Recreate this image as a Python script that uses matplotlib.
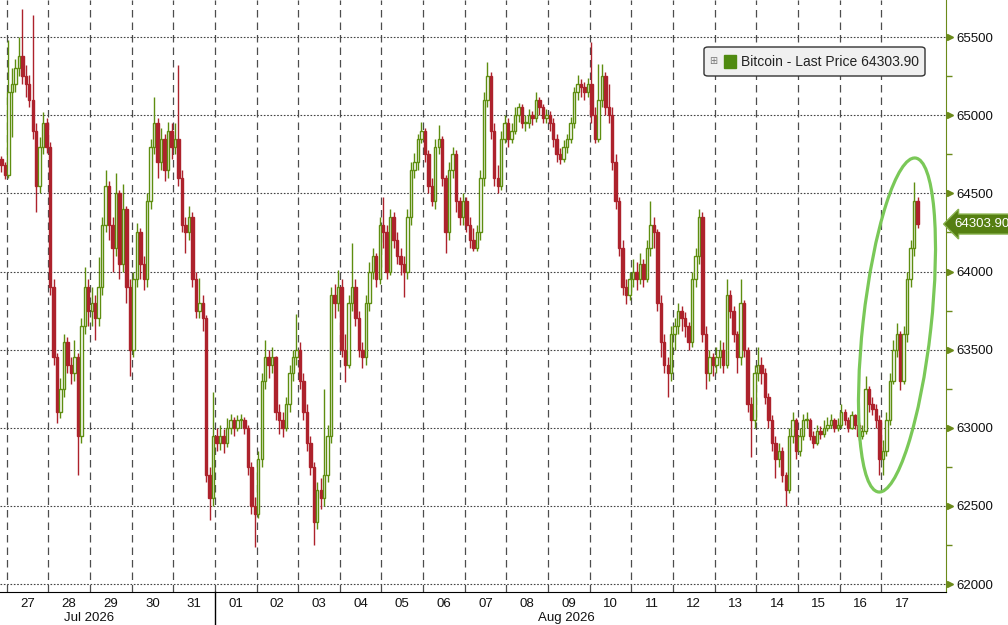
import numpy as np
import matplotlib.pyplot as plt
from matplotlib.patches import Ellipse, Rectangle, FancyBboxPatch
from matplotlib.transforms import IdentityTransform, ScaledTranslation, blended_transform_factory

# 2-hour candles, 12 per day; the first two bars are the tail of Jul 26
BARS_PER_DAY = 12
first_open = 64720

closes = [
    64680, 64620,  # Jul 26
    65150, 65200, 65300, 65380, 65250, 65200, 65100, 64900, 64550, 64800, 64950, 64800,  # 27
    63900, 63450, 63100, 63250, 63550, 63400, 63350, 63450, 62950, 63650, 63900, 63750,  # 28
    63800, 63700, 63900, 64300, 64550, 64300, 64150, 64500, 64050, 64400, 63900, 63500,  # 29
    63950, 64250, 64050, 63950, 64450, 64800, 64950, 64700, 64850, 64650, 64900, 64800,  # 30
    64850, 64600, 64300, 64250, 64350, 63950, 63750, 63800, 63700, 62700, 62550, 62950,  # 31
    62900, 62950, 62900, 63000, 63050, 63000, 63050, 63050, 63000, 62750, 62500, 62450,  # Aug 01
    62800, 63300, 63450, 63400, 63450, 63100, 63050, 63000, 63150, 63350, 63450, 63500,  # 02
    63300, 63100, 62900, 62750, 62400, 62600, 62550, 62700, 62950, 63850, 63800, 63900,  # 03
    63500, 63400, 63800, 63900, 63700, 63500, 63450, 63800, 64000, 64100, 63950, 64300,  # 04
    64250, 64000, 64350, 64200, 64100, 64050, 64000, 64350, 64650, 64700, 64850, 64900,  # 05
    64750, 64550, 64450, 64800, 64850, 64600, 64250, 64650, 64750, 64450, 64350, 64450,  # 06
    64300, 64200, 64150, 64250, 64600, 65100, 65250, 64900, 64600, 64550, 64850, 64950,  # 07
    64850, 64900, 65000, 65050, 64950, 64950, 65000, 64980, 65100, 65050, 64980, 65000,  # 08
    64950, 64850, 64750, 64720, 64800, 64850, 64950, 65150, 65200, 65180, 65150, 65200,  # 09
    65000, 64850, 65100, 65250, 65050, 65000, 64700, 64450, 64150, 63900, 63850, 63950,  # 10
    64000, 63950, 64050, 63950, 64150, 64300, 64250, 63800, 63550, 63400, 63350, 63600,  # 11
    63650, 63750, 63700, 63650, 63550, 63950, 64100, 64350, 63600, 63350, 63450, 63400,  # 12
    63450, 63500, 63400, 63850, 63750, 63600, 63450, 63800, 63500, 63150, 63050, 63350,  # 13
    63400, 63350, 63200, 63050, 62900, 62800, 62850, 62700, 62600, 62950, 63050, 62850,  # 14
    62950, 63050, 63050, 62950, 62900, 62980, 62960, 63000, 63020, 63050, 63000, 63020,  # 15
    63100, 63050, 63000, 63080, 63020, 62950, 62980, 63250, 63150, 63120, 63050, 62800,  # 16
    62850, 63050, 63300, 63500, 63600, 63300, 63600, 63950, 64150, 64450, 64303.90,      # 17
]

highs = [
    64740, 64700,
    65480, 65300, 65360, 65500, 65680, 65320, 65260, 65640, 64950, 64860, 65020, 64980,
    64830, 63950, 63480, 63320, 63600, 63580, 63450, 63560, 63480, 63700, 64030, 63950,
    63900, 63850, 64090, 64350, 64650, 64580, 64350, 64630, 64520, 64560, 64420, 63950,
    64000, 64310, 64280, 64100, 64500, 64850, 65120, 64980, 64920, 64880, 64960, 64950,
    64950, 65320, 64650, 64350, 64420, 64380, 64000, 63960, 63850, 63720, 62750, 63230,
    63000, 63020, 62990, 63060, 63090, 63070, 63080, 63090, 63070, 63020, 62780, 62560,
    62850, 63350, 63560, 63500, 63520, 63460, 63150, 63100, 63200, 63400, 63500, 63730,
    63550, 63350, 63150, 62950, 62780, 62650, 62680, 63250, 63020, 63900, 63920, 64010,
    63950, 63600, 63850, 64180, 63950, 63750, 63550, 63850, 64060, 64150, 64120, 64350,
    64480, 64300, 64400, 64380, 64250, 64150, 64100, 64400, 64700, 64760, 64880, 64960,
    64920, 64780, 64600, 64850, 64940, 64870, 64620, 64700, 64800, 64780, 64480, 64500,
    64480, 64350, 64280, 64300, 64650, 65150, 65340, 65280, 64950, 64680, 64900, 65000,
    64980, 64950, 65050, 65080, 65070, 65000, 65040, 65030, 65150, 65120, 65070, 65040,
    65030, 64980, 64880, 64790, 64840, 64880, 64990, 65180, 65260, 65230, 65210, 65240,
    65470, 65050, 65330, 65330, 65280, 65200, 65050, 64750, 64480, 64200, 63950, 64000,
    64080, 64060, 64120, 64080, 64200, 64450, 64350, 64270, 63850, 63600, 63450, 63650,
    63700, 63800, 63780, 63740, 63680, 64000, 64150, 64400, 64380, 63650, 63500, 63480,
    63520, 63560, 63550, 63950, 63880, 63780, 63620, 63950, 63820, 63520, 63200, 63400,
    63520, 63450, 63380, 63220, 63080, 62950, 62900, 62880, 62720, 63000, 63100, 63060,
    63000, 63090, 63100, 63060, 62980, 63020, 63010, 63050, 63070, 63090, 63060, 63060,
    63150, 63120, 63070, 63110, 63090, 63040, 63020, 63330, 63270, 63200, 63150, 63080,
    62920, 63100, 63350, 63560, 63670, 63620, 63650, 64000, 64200, 64570, 64480,
]

lows = [
    64640, 64590,
    64600, 64860, 65150, 65250, 65200, 65120, 65050, 64850, 64380, 64500, 64750, 64760,
    63850, 63400, 63030, 63060, 63200, 63350, 63280, 63300, 62700, 62900, 63600, 63650,
    63650, 63560, 63650, 63850, 64250, 64200, 64000, 64100, 63950, 64000, 63800, 63330,
    63450, 63900, 63950, 63880, 63900, 64400, 64750, 64600, 64650, 64580, 64600, 64720,
    64750, 64550, 64250, 64120, 64200, 63900, 63700, 63700, 63620, 62650, 62410, 62500,
    62850, 62860, 62840, 62880, 62960, 62950, 62980, 63000, 62960, 62700, 62450, 62240,
    62420, 62750, 63250, 63320, 63350, 63050, 62960, 62940, 62980, 63100, 63300, 63400,
    63250, 63050, 62850, 62700, 62250, 62350, 62480, 62500, 62650, 62900, 63700, 63750,
    63450, 63290, 63380, 63750, 63650, 63450, 63380, 63400, 63750, 63950, 63900, 63920,
    64150, 63950, 63980, 64150, 64050, 63980, 63840, 63950, 64300, 64600, 64650, 64820,
    64700, 64500, 64420, 64400, 64750, 64550, 64120, 64200, 64600, 64380, 64300, 64300,
    64250, 64150, 64130, 64130, 64200, 64550, 65050, 64850, 64550, 64500, 64520, 64820,
    64800, 64820, 64880, 64960, 64920, 64900, 64920, 64940, 64960, 65000, 64950, 64950,
    64900, 64800, 64700, 64690, 64700, 64760, 64820, 64920, 65100, 65120, 65100, 65120,
    64950, 64820, 64830, 65050, 65000, 64950, 64650, 64400, 64100, 63850, 63790, 63820,
    63900, 63880, 63920, 63900, 63930, 64100, 64150, 63750, 63450, 63350, 63200, 63300,
    63500, 63600, 63620, 63580, 63500, 63520, 63900, 64050, 63550, 63250, 63300, 63330,
    63350, 63380, 63350, 63380, 63700, 63550, 63350, 63400, 63450, 63100, 62810, 63000,
    63300, 63280, 63150, 63000, 62850, 62680, 62750, 62650, 62500, 62580, 62900, 62800,
    62820, 62920, 63000, 62920, 62870, 62890, 62930, 62940, 62980, 63000, 62970, 62980,
    63000, 63020, 62970, 62990, 62990, 62920, 62930, 62960, 63100, 63080, 63000, 62700,
    62700, 62820, 63020, 63280, 63450, 63240, 63280, 63550, 63900, 64100, 64280,
]

day_labels = ["27", "28", "29", "30", "31", "01", "02", "03", "04", "05", "06",
              "07", "08", "09", "10", "11", "12", "13", "14", "15", "16", "17"]
month_labels = ["Jul 2026", "Aug 2026"]
month_centres = [1.98, 13.45]   # in days from Jul 27
month_break = 5                 # Jul 31 / Aug 01

series_name = "Bitcoin - Last Price"
last_price = closes[-1]

UP = "#5e8e10"
DOWN = "#ad222c"
AXIS_GREEN = "#6b8a1a"

plt.rcParams["font.family"] = ["Liberation Sans", "DejaVu Sans"]

opens = np.array([first_open] + closes[:-1], dtype=float)
c = np.array(closes, dtype=float)
h = np.maximum(np.array(highs, dtype=float), np.maximum(opens, c))
l = np.minimum(np.array(lows, dtype=float), np.minimum(opens, c))
x = (np.arange(len(c)) - 2 + 0.5) / BARS_PER_DAY
up = c >= opens
cols = np.where(up, UP, DOWN)

fig = plt.figure(figsize=(10.08, 6.25), dpi=100)
ax = fig.add_axes([0, 33 / 625, 945.7 / 1008, 592 / 625])

# grid: dashed day separators, dotted price levels
for d in range(len(day_labels)):
    ax.axvline(d, color="#4d4d4d", ls=(0, (6, 4)), lw=0.9, zorder=0)
yt = np.arange(62000, 65501, 500)
for v in yt:
    ax.axhline(v, color="#444444", ls=(0, (1.5, 1.5)), lw=0.8, zorder=0)

# candles
ax.vlines(x, l, h, colors=cols, lw=1.0, zorder=2)
body = np.maximum(np.abs(c - opens), 6)
ax.bar(x, body, bottom=np.minimum(opens, c), width=0.7 / BARS_PER_DAY,
       color=np.where(up, "white", DOWN), edgecolor=cols, linewidth=1.0, zorder=3)

ax.set_xlim(-0.161, 22.55)
ax.set_ylim(61949, 65738)

for s in ["left", "top"]:
    ax.spines[s].set_visible(False)
ax.spines["right"].set_color(AXIS_GREEN)
ax.spines["bottom"].set_color("black")

# right price axis with little arrows at the majors
ax.yaxis.tick_right()
ax.set_yticks(yt)
ax.set_yticklabels([str(v) for v in yt])
ax.set_yticks(np.arange(62250, 65750, 500), minor=True)
ax.tick_params(axis="y", which="major", length=4, width=1, color=AXIS_GREEN,
               pad=3.5, labelsize=9.5, labelcolor="#111111")
ax.tick_params(axis="y", which="minor", length=4, width=1, color=AXIS_GREEN)
arrow_tr = ax.get_yaxis_transform() + ScaledTranslation(4 / 100, 0, fig.dpi_scale_trans)
ax.plot(np.ones(len(yt)), yt, transform=arrow_tr, ls="none", marker=">",
        ms=5, color=AXIS_GREEN, clip_on=False)

# day labels in the middle of each day, month labels below
ax.set_xticks(np.arange(len(day_labels)) + 0.5)
ax.set_xticklabels(day_labels)
ax.tick_params(axis="x", length=0, pad=4, labelsize=9.5, labelcolor="#111111")
tr = blended_transform_factory(ax.transData, ax.transAxes)
for lab, pos in zip(month_labels, month_centres):
    ax.text(pos, -0.044, lab, transform=tr, ha="center", va="center",
            fontsize=9.5, color="#111111")
ax.plot([month_break, month_break], [0, -0.06], transform=tr, color="black",
        lw=1, clip_on=False)

# last price tag on the axis
ax.text(1.0, last_price, f"{last_price:.2f}",
        transform=ax.get_yaxis_transform() + ScaledTranslation(9 / 100, 0, fig.dpi_scale_trans),
        ha="left", va="center", fontsize=9.5, color="white",
        bbox=dict(boxstyle="larrow,pad=0.3", fc="#557f12", ec="#86b04a", lw=1),
        clip_on=False, zorder=5)

# legend box
fig.add_artist(FancyBboxPatch((704 / 1008, 549 / 625), 221 / 1008, 29 / 625,
                              boxstyle="round,pad=0,rounding_size=0.004",
                              transform=fig.transFigure, fc="#f0f0f0",
                              ec="#333333", lw=1))
fig.text(713 / 1008, 563.5 / 625, "\u229e", fontsize=7, color="#777777",
         ha="center", va="center", family="DejaVu Sans")
fig.add_artist(Rectangle((724 / 1008, 557 / 625), 12 / 1008, 13 / 625,
                         transform=fig.transFigure, color="#4f8a10"))
fig.text(741 / 1008, 563.5 / 625, f"{series_name} {last_price:.2f}",
         fontsize=10, color="#222222", ha="left", va="center")

# highlight ellipse around the final rally
fig.add_artist(Ellipse((897, 300), width=68, height=336, angle=-6.3,
                       transform=IdentityTransform(), fill=False,
                       ec="#7ac858", lw=2.3))

fig.savefig("out.png", dpi=100)
